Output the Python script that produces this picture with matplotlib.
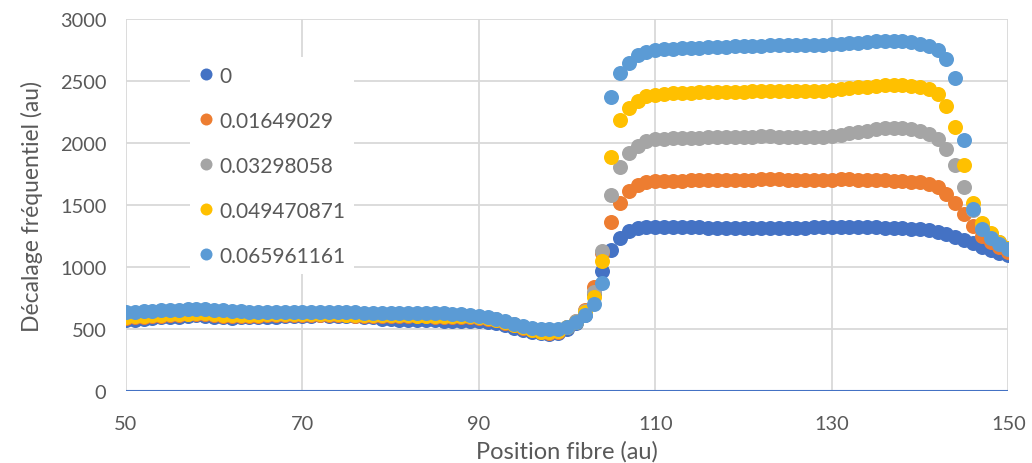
import numpy as np
import matplotlib
matplotlib.use("Agg")
import matplotlib.pyplot as plt

plt.rcParams['font.family'] = ['Lato', 'DejaVu Sans']

# position along the fibre (au), one point per unit
position = list(range(50, 151))

labels = ['0', '0.01649029', '0.03298058', '0.049470871', '0.065961161']
colors = ['#4472C4', '#ED7D31', '#A5A5A5', '#FFC000', '#5B9BD5']

# frequency shift (au)
shift_0 = [570, 575, 585, 590, 595, 598, 600, 605, 610, 608,
           600, 595, 592, 595, 597, 598, 600, 600, 602, 605,
           605, 608, 610, 608, 605, 605, 603, 600, 595, 585,
           578, 575, 575, 572, 570, 570, 568, 568, 565, 565,
           562, 555, 545, 530, 512, 495, 478, 465, 460, 470,
           500, 545, 610, 780, 965, 1135, 1235, 1290, 1315, 1322,
           1325, 1325, 1325, 1322, 1320, 1320, 1318, 1318, 1318, 1318,
           1318, 1318, 1318, 1318, 1318, 1318, 1318, 1318, 1320, 1322,
           1322, 1325, 1325, 1325, 1322, 1320, 1318, 1315, 1312, 1310,
           1305, 1298, 1285, 1265, 1244, 1218, 1193, 1165, 1137, 1115,
           1097]

shift_1 = [590, 595, 600, 605, 608, 610, 612, 618, 620, 618,
           612, 608, 605, 606, 608, 608, 610, 610, 611, 612,
           612, 612, 613, 612, 610, 610, 608, 606, 605, 605,
           605, 604, 603, 602, 602, 601, 600, 600, 600, 596,
           590, 582, 570, 552, 532, 512, 492, 476, 470, 478,
           515, 565, 657, 843, 1115, 1360, 1520, 1614, 1665, 1685,
           1692, 1695, 1695, 1697, 1698, 1698, 1700, 1700, 1702, 1703,
           1705, 1705, 1707, 1707, 1707, 1705, 1705, 1703, 1703, 1703,
           1705, 1707, 1707, 1705, 1703, 1700, 1698, 1695, 1692, 1688,
           1682, 1670, 1644, 1591, 1516, 1425, 1330, 1250, 1205, 1165,
           1125]

shift_2 = [605, 608, 612, 616, 620, 622, 625, 628, 630, 628,
           622, 618, 615, 616, 618, 618, 619, 620, 620, 620,
           620, 620, 621, 620, 618, 618, 617, 616, 615, 615,
           615, 615, 614, 612, 610, 608, 606, 605, 604, 602,
           598, 590, 578, 560, 540, 520, 500, 484, 478, 484,
           520, 565, 645, 800, 1129, 1578, 1810, 1917, 1978, 2018,
           2030, 2035, 2040, 2040, 2042, 2042, 2045, 2045, 2045, 2047,
           2050, 2052, 2055, 2055, 2052, 2050, 2050, 2048, 2048, 2050,
           2055, 2065, 2078, 2090, 2100, 2110, 2118, 2120, 2118, 2110,
           2098, 2075, 2035, 1952, 1824, 1645, 1460, 1330, 1265, 1205,
           1150]

shift_3 = [600, 603, 608, 612, 616, 618, 620, 625, 628, 626,
           620, 616, 613, 614, 616, 616, 618, 618, 619, 620,
           620, 620, 621, 620, 618, 617, 616, 614, 612, 612,
           612, 611, 610, 609, 608, 607, 606, 605, 605, 602,
           595, 586, 574, 556, 536, 516, 496, 480, 476, 484,
           520, 560, 640, 761, 1049, 1885, 2184, 2285, 2339, 2375,
           2390, 2398, 2402, 2405, 2405, 2408, 2408, 2410, 2410, 2412,
           2415, 2418, 2420, 2422, 2422, 2420, 2420, 2418, 2418, 2420,
           2425, 2432, 2440, 2448, 2455, 2462, 2468, 2470, 2468, 2462,
           2452, 2432, 2393, 2300, 2131, 1824, 1516, 1351, 1275, 1205,
           1150]

shift_4 = [635, 640, 645, 648, 650, 650, 655, 660, 662, 660,
           655, 650, 645, 642, 640, 640, 640, 640, 639, 638,
           638, 637, 637, 636, 635, 635, 634, 633, 633, 632,
           632, 631, 630, 629, 628, 628, 627, 625, 622, 615,
           605, 595, 585, 565, 543, 525, 510, 500, 497, 500,
           515, 553, 617, 705, 873, 2370, 2566, 2646, 2707, 2734,
           2748, 2755, 2758, 2762, 2765, 2768, 2770, 2772, 2775, 2778,
           2780, 2782, 2785, 2787, 2788, 2790, 2790, 2790, 2790, 2792,
           2795, 2800, 2805, 2810, 2815, 2820, 2825, 2825, 2822, 2815,
           2800, 2780, 2752, 2675, 2528, 2025, 1470, 1310, 1232, 1185,
           1143]

series = [shift_0, shift_1, shift_2, shift_3, shift_4]

fig = plt.figure(figsize=(10.32, 4.64), dpi=100)
ax = fig.add_axes([0.122, 0.155, 0.855, 0.802])

for ys, lab, col in zip(series, labels, colors):
    ax.plot(position, ys, 'o', ms=10.8, color=col, mec='none', label=lab, zorder=3)

ax.set_xlim(50, 150)
ax.set_ylim(0, 3000)
ax.set_xticks([50, 70, 90, 110, 130, 150])
ax.set_yticks(np.arange(0, 3001, 500))
ax.grid(True, color='#D9D9D9', lw=1.3, zorder=0)
ax.set_axisbelow(True)
for s in ax.spines.values():
    s.set_visible(False)
ax.axhline(0, color='#4472C4', lw=1.5, zorder=2)
ax.tick_params(length=0, labelsize=14.4, labelcolor='#595959')
ax.tick_params(axis='x', pad=17)
ax.tick_params(axis='y', pad=14)

ax.set_xlabel('Position fibre (au)', fontsize=17, color='#595959', labelpad=6)
ax.set_ylabel('Décalage fréquentiel (au)', fontsize=16.5, color='#595959', labelpad=12)

leg = ax.legend(loc='upper left', bbox_to_anchor=(0.061, 0.925), frameon=True,
                fontsize=15, labelspacing=1.2, handlelength=0.7,
                handletextpad=0.3, markerscale=0.8, borderpad=0.4)
leg.get_frame().set_facecolor('white')
leg.get_frame().set_edgecolor('none')
leg.get_frame().set_alpha(1)
for t in leg.get_texts():
    t.set_color('#595959')

fig.savefig('out.png', dpi=100)
